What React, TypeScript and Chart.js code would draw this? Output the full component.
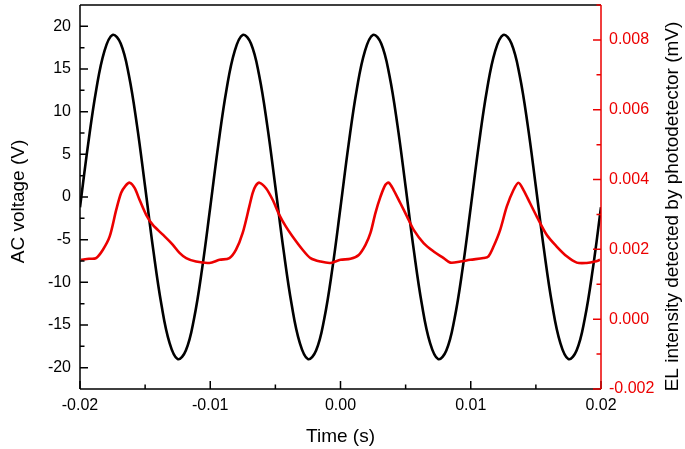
import React, { useEffect, useRef } from "react";
import { Chart, registerables } from "chart.js";

Chart.register(...registerables);

// Tick values
const timeTicks = [-0.02, -0.01, 0, 0.01, 0.02];
const voltageTicks = [-20, -15, -10, -5, 0, 5, 10, 15, 20];
const elTicks = [-0.002, 0, 0.002, 0.004, 0.006, 0.008];

// AC voltage (black, left axis)
const acTime = [
  -0.02, -0.019375, -0.01875, -0.018125, -0.0175, -0.016875, -0.01625, -0.015625,
  -0.015, -0.014375, -0.01375, -0.013125, -0.0125, -0.011875, -0.01125, -0.010625,
  -0.01, -0.009375, -0.00875, -0.008125, -0.0075, -0.006875, -0.00625, -0.005625,
  -0.005, -0.004375, -0.00375, -0.003125, -0.0025, -0.001875, -0.00125, -0.000625,
  0, 0.000625, 0.00125, 0.001875, 0.0025, 0.003125, 0.00375, 0.004375,
  0.005, 0.005625, 0.00625, 0.006875, 0.0075, 0.008125, 0.00875, 0.009375,
  0.01, 0.010625, 0.01125, 0.011875, 0.0125, 0.013125, 0.01375, 0.014375,
  0.015, 0.015625, 0.01625, 0.016875, 0.0175, 0.018125, 0.01875, 0.019375, 0.02,
];
const acVoltage = [
  -1.2, 6.2, 12.6, 17.1, 19.0, 18.0, 14.3, 8.4, 1.2, -6.2, -12.6, -17.1, -19.0, -18.0, -14.3, -8.4,
  -1.2, 6.2, 12.6, 17.1, 19.0, 18.0, 14.3, 8.4, 1.2, -6.2, -12.6, -17.1, -19.0, -18.0, -14.3, -8.4,
  -1.2, 6.2, 12.6, 17.1, 19.0, 18.0, 14.3, 8.4, 1.2, -6.2, -12.6, -17.1, -19.0, -18.0, -14.3, -8.4,
  -1.2, 6.2, 12.6, 17.1, 19.0, 18.0, 14.3, 8.4, 1.2, -6.2, -12.6, -17.1, -19.0, -18.0, -14.3, -8.4,
  -1.2,
];

// EL intensity (red, right axis)
const elTime = [
  -0.01992, -0.01931, -0.01877, -0.01824, -0.01772, -0.01722, -0.01684, -0.01651, -0.01619,
  -0.01581, -0.01543, -0.01492, -0.01441, -0.01364, -0.01287, -0.01236, -0.01185, -0.01109,
  -0.01006, -0.00929, -0.00853, -0.00802, -0.00751, -0.007, -0.00674, -0.00651, -0.00623,
  -0.00572, -0.00521, -0.0047, -0.00419, -0.00368, -0.00291, -0.0023, -0.00153, -0.00077,
  0.0, 0.00077, 0.0014, 0.00192, 0.0023, 0.00268, 0.00307, 0.00345, 0.0037,
  0.00408, 0.0046, 0.00511, 0.00562, 0.00638, 0.00715, 0.00792, 0.00843, 0.0092,
  0.00996, 0.01098, 0.01136, 0.01175, 0.01226, 0.01277, 0.01328, 0.01366,
  0.01405, 0.01456, 0.01507, 0.01584, 0.0166, 0.01737, 0.01814, 0.0189, 0.01954, 0.01992,
];
const elIntensity = [
  0.0017, 0.00173, 0.00175, 0.00199, 0.00237, 0.00313, 0.00362, 0.00382, 0.00391,
  0.00376, 0.00342, 0.00299, 0.0027, 0.00242, 0.00213, 0.0019, 0.00175, 0.00165,
  0.00161, 0.0017, 0.00175, 0.00199, 0.00247, 0.00323, 0.00362, 0.00382, 0.00391,
  0.00375, 0.00342, 0.00299, 0.00265, 0.00237, 0.00199, 0.00175, 0.00165, 0.00161,
  0.0017, 0.00173, 0.00184, 0.00213, 0.00247, 0.00304, 0.00351, 0.00385, 0.00391,
  0.0037, 0.00332, 0.00294, 0.00256, 0.00218, 0.00194, 0.00175, 0.00162, 0.00165,
  0.0017, 0.00175, 0.0018, 0.00208, 0.00256, 0.00323, 0.0037, 0.00391,
  0.0037, 0.00332, 0.00294, 0.00241, 0.00208, 0.0018, 0.00162, 0.00161, 0.00165, 0.0017,
];

const FONT = "'Liberation Sans', Arial, sans-serif";
const RED = "rgb(236, 0, 0)";
const TICK_SIZE = 16;

const framePlugin = {
  id: "frameAndTitles",
  afterDraw(chart: any) {
    const { ctx, chartArea } = chart;
    const { left, right, top, bottom } = chartArea;
    const xs = chart.scales.x;
    const ys = chart.scales.y;
    const y1 = chart.scales.y1;
    ctx.save();
    ctx.lineWidth = 1.5;
    ctx.lineCap = "butt";
    ctx.strokeStyle = "#000";
    ctx.beginPath();
    ctx.moveTo(left, top);
    ctx.lineTo(right, top);
    ctx.moveTo(left, top);
    ctx.lineTo(left, bottom);
    ctx.moveTo(left, bottom);
    ctx.lineTo(right, bottom);
    ctx.stroke();
    ctx.beginPath();
    for (let i = 0; i < voltageTicks.length; i++) {
      const p = ys.getPixelForValue(voltageTicks[i]);
      ctx.moveTo(left, p);
      ctx.lineTo(left + 8, p);
      if (i < voltageTicks.length - 1) {
        const m = ys.getPixelForValue((voltageTicks[i] + voltageTicks[i + 1]) / 2);
        ctx.moveTo(left, m);
        ctx.lineTo(left + 4.5, m);
      }
    }
    for (let i = 0; i < timeTicks.length; i++) {
      const p = xs.getPixelForValue(timeTicks[i]);
      ctx.moveTo(p, bottom);
      ctx.lineTo(p, bottom - 8);
      if (i < timeTicks.length - 1) {
        const m = xs.getPixelForValue((timeTicks[i] + timeTicks[i + 1]) / 2);
        ctx.moveTo(m, bottom);
        ctx.lineTo(m, bottom - 4.5);
      }
    }
    ctx.stroke();
    ctx.strokeStyle = RED;
    ctx.beginPath();
    ctx.moveTo(right, top);
    ctx.lineTo(right, bottom);
    for (let i = 0; i < elTicks.length; i++) {
      const p = y1.getPixelForValue(elTicks[i]);
      ctx.moveTo(right, p);
      ctx.lineTo(right - 8, p);
      const m = y1.getPixelForValue(elTicks[i] + 0.001);
      ctx.moveTo(right, m);
      ctx.lineTo(right - 4.5, m);
    }
    ctx.stroke();

    ctx.fillStyle = "#000";
    ctx.font = `19px ${FONT}`;
    ctx.textBaseline = "alphabetic";
    ctx.textAlign = "center";
    ctx.fillText("Time (s)", (left + right) / 2, 441.5);
    ctx.save();
    ctx.translate(23.5, 201.5);
    ctx.rotate(-Math.PI / 2);
    ctx.fillText("AC voltage (V)", 0, 0);
    ctx.restore();
    ctx.save();
    ctx.translate(678, 206.5);
    ctx.rotate(-Math.PI / 2);
    ctx.fillText("EL intensity detected by photodetector (mV)", 0, 0);
    ctx.restore();
    ctx.restore();
  },
};

const zeroPad = (s: any) => {
  s.paddingTop = 0;
  s.paddingBottom = 0;
  s.paddingLeft = 0;
  s.paddingRight = 0;
};

export default function App() {
  const canvasRef = useRef<HTMLCanvasElement | null>(null);

  useEffect(() => {
    const canvas = canvasRef.current;
    if (!canvas) return;
    const chart = new Chart(canvas, {
      type: "line",
      data: {
        datasets: [
          {
            label: "EL intensity",
            data: elTime.map((t, i) => ({ x: t, y: elIntensity[i] })),
            yAxisID: "y1",
            borderColor: RED,
            borderWidth: 2.6,
            pointRadius: 0,
            tension: 0.3,
            fill: false,
          },
          {
            label: "AC voltage",
            data: acTime.map((t, i) => ({ x: t, y: acVoltage[i] })),
            yAxisID: "y",
            borderColor: "#000",
            borderWidth: 2.6,
            pointRadius: 0,
            tension: 0.4,
            fill: false,
          },
        ],
      },
      options: {
        animation: false,
        responsive: false,
        maintainAspectRatio: false,
        layout: { padding: { top: 5, left: 0, right: 0, bottom: 0 } },
        plugins: { legend: { display: false }, tooltip: { enabled: false } },
        scales: {
          x: {
            type: "linear",
            min: -0.02,
            max: 0.02,
            grid: { display: false, drawTicks: false },
            border: { display: false },
            ticks: {
              color: "#000",
              font: { family: FONT, size: TICK_SIZE },
              padding: 7,
              maxRotation: 0,
              callback: (v: any) => Number(v).toFixed(2),
            },
            afterBuildTicks: (s: any) => {
              s.ticks = timeTicks.map((v) => ({ value: v }));
            },
            afterFit: (s: any) => {
              s.height = 60;
              zeroPad(s);
            },
          },
          y: {
            type: "linear",
            position: "left",
            min: -22.5,
            max: 22.5,
            grid: { display: false, drawTicks: false },
            border: { display: false },
            ticks: {
              color: "#000",
              font: { family: FONT, size: TICK_SIZE },
              padding: 9,
              callback: (v: any) => String(v),
            },
            afterBuildTicks: (s: any) => {
              s.ticks = voltageTicks.map((v) => ({ value: v }));
            },
            afterFit: (s: any) => {
              s.width = 80;
              zeroPad(s);
            },
          },
          y1: {
            type: "linear",
            position: "right",
            min: -0.002,
            max: 0.009,
            grid: { display: false, drawTicks: false },
            border: { display: false },
            ticks: {
              color: RED,
              font: { family: FONT, size: TICK_SIZE },
              padding: 8,
              callback: (v: any) => Number(v).toFixed(3),
            },
            afterBuildTicks: (s: any) => {
              s.ticks = elTicks.map((v) => ({ value: v }));
            },
            afterFit: (s: any) => {
              s.width = 84;
              zeroPad(s);
            },
          },
        },
      },
      plugins: [framePlugin],
    });
    return () => chart.destroy();
  }, []);

  return (
    <div style={{ position: "absolute", left: 0, top: 0, width: 685, height: 449, background: "#fff" }}>
      <canvas ref={canvasRef} width={685} height={449} style={{ display: "block" }} />
    </div>
  );
}
